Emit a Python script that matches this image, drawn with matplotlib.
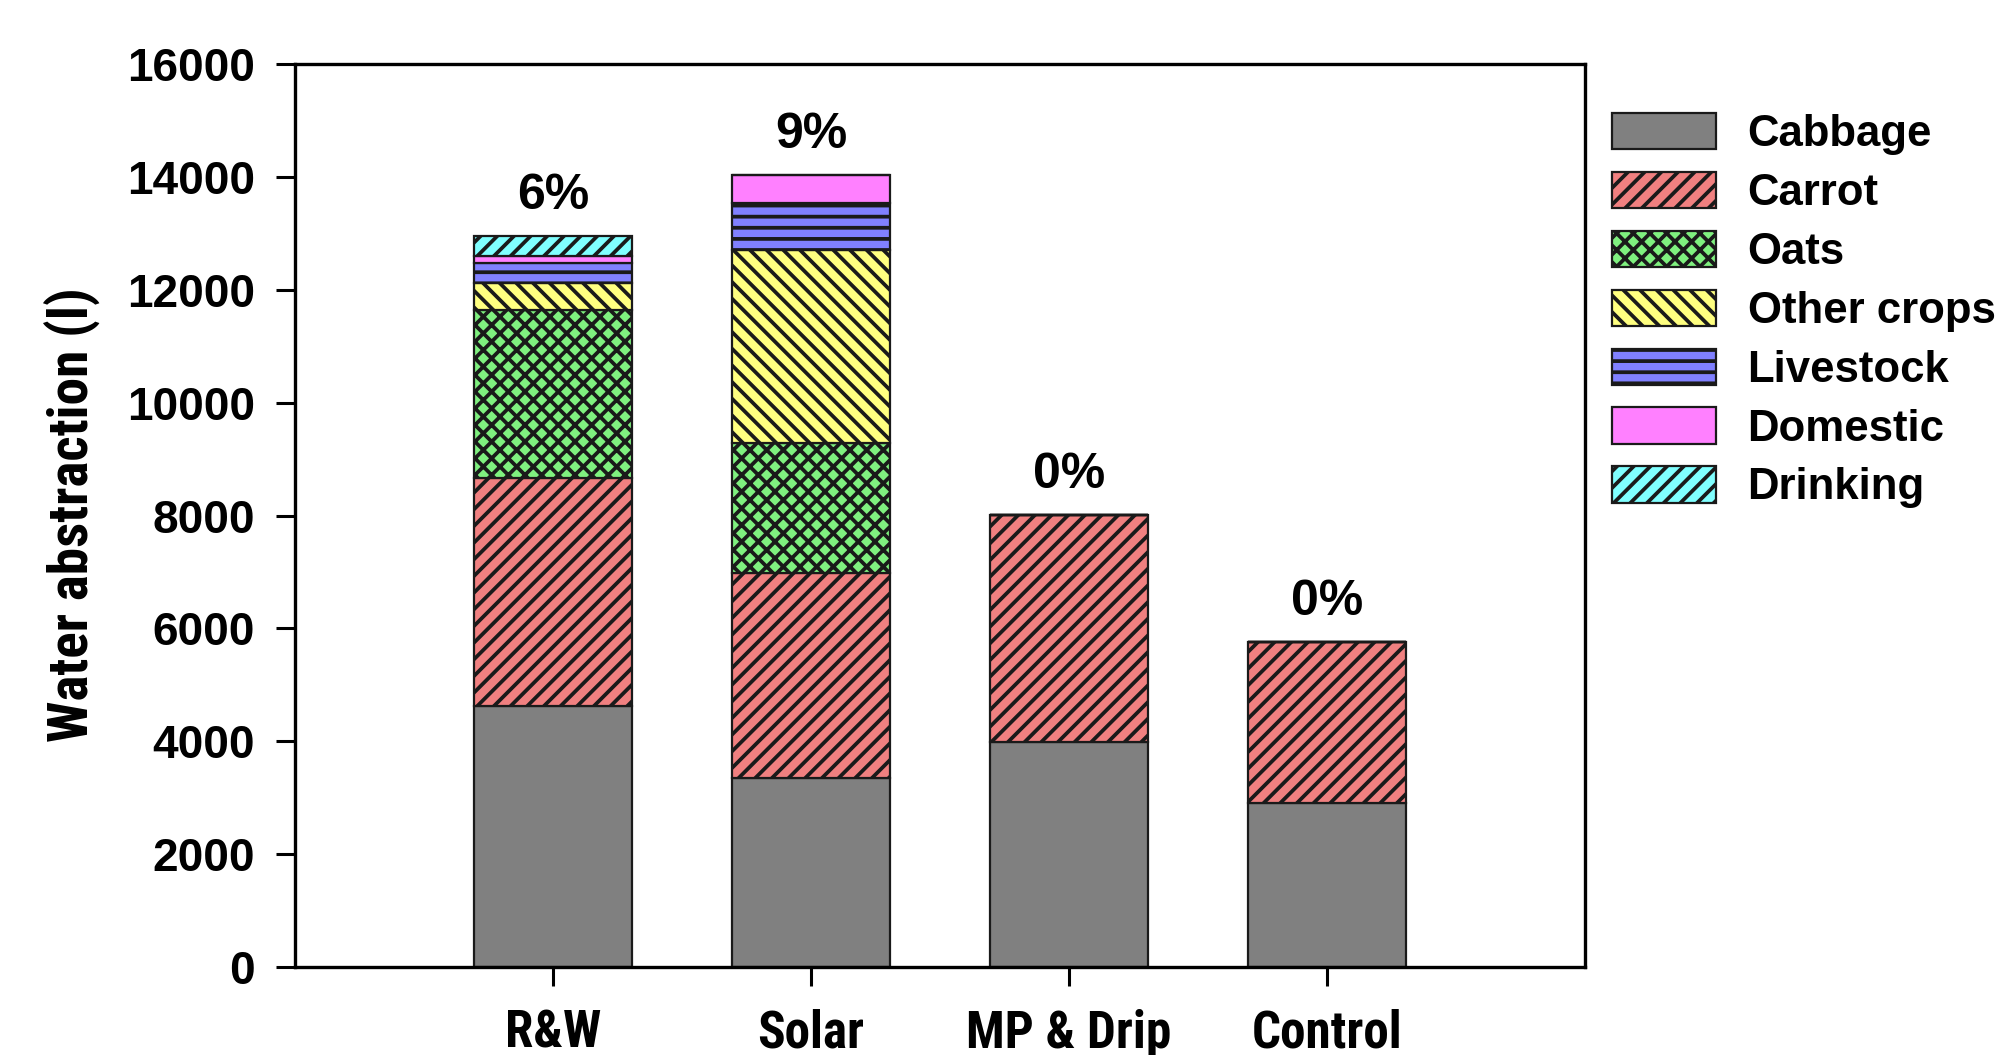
import matplotlib
matplotlib.use('Agg')
import matplotlib.pyplot as plt
from matplotlib import font_manager
from matplotlib import hatch as mhatch
from matplotlib.font_manager import FontProperties
import numpy as np

# ---------------- data ----------------
categories = ['R&W', 'Solar', 'MP & Drip', 'Control']
cabbage = [4630, 3350, 3980, 2900]
carrot = [4030, 3630, 4030, 2850]
oats = [2990, 2310, 0, 0]
other_crops = [470, 3410, 0, 0]
livestock = [350, 830, 0, 0]
domestic = [120, 500, 0, 0]
drinking = [360, 0, 0, 0]
pct_labels = ['6%', '9%', '0%', '0%']
series_names = ['Cabbage', 'Carrot', 'Oats', 'Other crops', 'Livestock', 'Domestic', 'Drinking']
yticks = [0, 2000, 4000, 6000, 8000, 10000, 12000, 14000, 16000]

series = [cabbage, carrot, oats, other_crops, livestock, domestic, drinking]
colors = ['#808080', '#F08080', '#7FF07F', '#FFFF80', '#8080FF', '#FF80FF', '#80FFFF']
hatches = [None, '//', 'xx', '\\\\', '-', None, '//']


# slightly denser horizontal hatch (about 9 lines per inch) for the livestock pattern
def _hz_init(self, hatch, density):
    self.num_lines = int((hatch.count('-') + hatch.count('+')) * 9)
    self.num_vertices = self.num_lines * 2


mhatch.HorizontalHatch.__init__ = _hz_init

# ---------------- fonts ----------------
plt.rcParams['font.family'] = ['Liberation Sans', 'DejaVu Sans']
plt.rcParams['font.weight'] = 'bold'
plt.rcParams['hatch.linewidth'] = 2.7

narrow_path = None
for f in font_manager.fontManager.ttflist:
    st = str(f.stretch).lower()
    wt = f.weight
    is_bold = (wt == 'bold') or (isinstance(wt, int) and wt >= 700)
    if f.style != 'normal' or not is_bold:
        continue
    if 'narrow' in f.name.lower() or 'condensed' in f.name.lower() or 'condensed' in st:
        if 'semi' in st or 'extra' in st or 'ultra' in st:
            continue
        narrow_path = f.fname
        if 'Liberation' in f.name:
            break
if narrow_path:
    narrow_fp = FontProperties(fname=narrow_path)
    narrow_scale = 1.15
else:
    narrow_fp = FontProperties(family='Liberation Sans', weight='bold')
    narrow_scale = 1.0

# ---------------- figure ----------------
fig = plt.figure(figsize=(20.03, 10.55), dpi=100)
ax = fig.add_axes([295 / 2003, 1 - 967 / 1055, (1585 - 295) / 2003, (967 - 64) / 1055])

x = np.arange(len(categories))
bottom = np.zeros(len(categories))
handles = []
for vals, name, col, h in zip(series, series_names, colors, hatches):
    vals = np.array(vals, dtype=float)
    bars = ax.bar(x, vals, width=0.61, bottom=bottom, color=col, edgecolor='#1a1a1a',
                  linewidth=1.6, hatch=h, label=name, zorder=2)
    handles.append(bars)
    bottom += vals

totals = bottom
for xi, tot, lab in zip(x, totals, pct_labels):
    ax.annotate(lab, (xi, tot), xytext=(0, 29), textcoords='offset points',
                ha='center', va='center', fontsize=36, fontweight='bold')

ax.set_xlim(-1, 4)
ax.set_ylim(0, 16000)
ax.set_yticks(yticks)
ax.set_yticklabels([str(t) for t in yticks], fontsize=33, fontweight='bold')
ax.set_xticks(x)
ax.set_xticklabels(categories)
for t in ax.get_xticklabels():
    t.set_fontproperties(narrow_fp)
    t.set_fontsize(32 * narrow_scale)

for sp in ax.spines.values():
    sp.set_linewidth(2.4)
ax.tick_params(axis='y', direction='out', length=14, width=2.2, pad=15)
ax.tick_params(axis='x', direction='out', length=14, width=2.2, pad=16)

fig.text(72 / 2003, 0.512, 'Water abstraction (l)', rotation=90, ha='center', va='center',
         fontproperties=narrow_fp, fontsize=34.6 * narrow_scale)

leg = fig.legend(handles=handles, labels=series_names, loc='upper left',
                 bbox_to_anchor=(1612 / 2003, 1 - 113 / 1055), frameon=False,
                 prop=FontProperties(family='Liberation Sans', weight='bold', size=31.5),
                 handlelength=2.38, handleheight=0.9, handletextpad=0.72,
                 labelspacing=0.38, borderpad=0, borderaxespad=0)

fig.savefig('out.png', dpi=100)
